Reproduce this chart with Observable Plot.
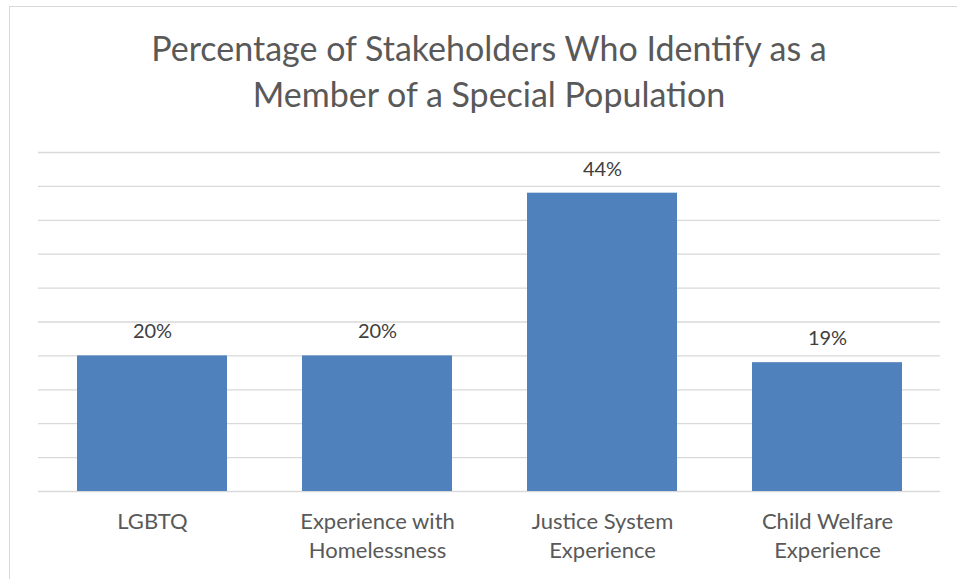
<!DOCTYPE html>
<html>
<head>
<meta charset="utf-8">
<script src="https://cdn.jsdelivr.net/npm/d3@7"></script>
<script src="https://cdn.jsdelivr.net/npm/@observablehq/plot@0.6"></script>
<style>
  html, body { margin: 0; padding: 0; background: #fff; overflow: hidden; }
  #wrap { position: relative; width: 957px; height: 579px; overflow: hidden; font-family: Lato, "Open Sans", sans-serif; }
  #frame { position: absolute; left: 9px; top: 6px; width: 1000px; height: 700px; border: 1px solid #d9d9d9; box-sizing: border-box; }
  #title { position: absolute; left: 0; top: 25px; width: 978px; text-align: center; font-size: 34px; line-height: 46px; color: #595959; }
  #chart { position: absolute; left: 0; top: 130px; }
</style>
</head>
<body>
<div id="wrap">
  <div id="frame"></div>
  <div id="title">Percentage of Stakeholders Who Identify as a<br>Member of a Special Population</div>
  <div id="chart"></div>
</div>
<script>
const categories = ["LGBTQ", "Experience with\nHomelessness", "Justice System\nExperience", "Child Welfare\nExperience"];
const values = [20, 20, 44, 19];
const gridTicks = [0, 5, 10, 15, 20, 25, 30, 35, 40, 45, 50];

const data = categories.map((c, i) => ({category: c, value: values[i]}));

const plot = Plot.plot({
  width: 957,
  height: 449,
  marginTop: 22,
  marginBottom: 88,
  marginLeft: 38,
  marginRight: 17,
  style: {fontFamily: "Lato, 'Open Sans', sans-serif", background: "transparent"},
  x: {domain: categories, paddingInner: 0.335, paddingOuter: 0.167, label: null},
  y: {domain: [0, 50], label: null},
  marks: [
    Plot.ruleY(gridTicks, {stroke: "#d9d9d9", strokeWidth: 1.3}),
    Plot.barY(data, {x: "category", y: "value", fill: "#4f81bd"}),
    Plot.text(data, {x: "category", y: "value", text: d => d.value + "%", dy: -24, fontSize: 20, fill: "#404040"}),
    Plot.axisX({tickSize: 0, tickPadding: 17, fontSize: 22, lineHeight: 1.32, color: "#595959", textAnchor: "middle"}),
    Plot.axisY({ticks: [], tickSize: 0, label: null})
  ]
});
document.getElementById("chart").appendChild(plot);
</script>
</body>
</html>
